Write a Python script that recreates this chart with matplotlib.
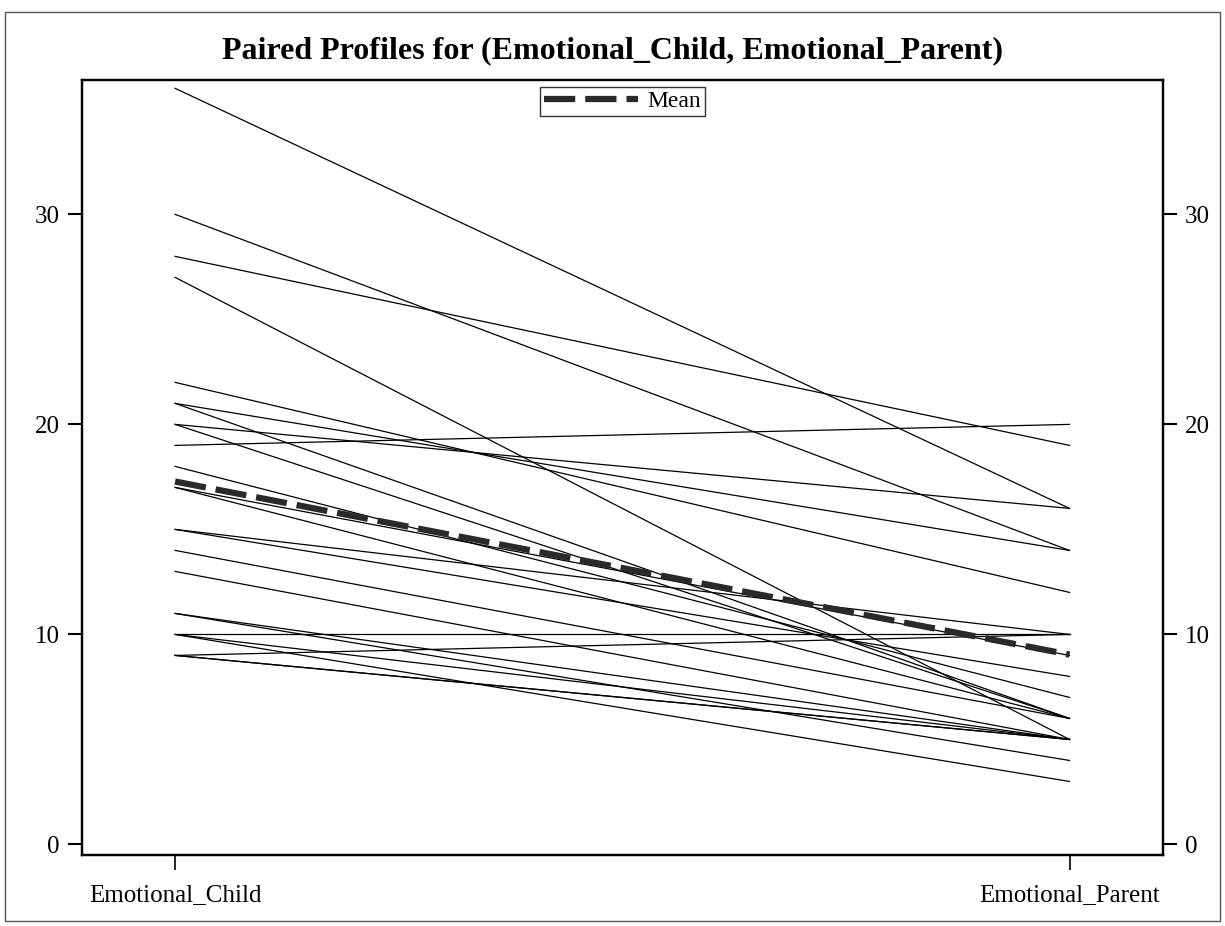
import matplotlib
matplotlib.use("Agg")
import matplotlib.pyplot as plt
import numpy as np
from matplotlib.patches import Rectangle

# paired scores, one entry per subject
child = [36, 30, 28, 27, 22, 21, 21, 20, 20, 19, 18, 17, 17,
         15, 15, 14, 13, 11, 11, 10, 10, 9, 10, 9, 9]
parent = [16, 14, 19, 5, 12, 14, 6, 16, 6, 20, 7, 9, 6,
          10, 8, 6, 5, 5, 4, 10, 5, 5, 3, 10, 5]
labels = ["Emotional_Child", "Emotional_Parent"]
title = "Paired Profiles for (Emotional_Child, Emotional_Parent)"

plt.rcParams['font.family'] = ['Liberation Serif', 'DejaVu Serif']

fig = plt.figure(figsize=(12.25, 9.26), dpi=100)
ax = fig.add_axes([0.067, 0.0767, 0.882, 0.837])

xs = [0, 1]
for c, p in zip(child, parent):
    ax.plot(xs, [c, p], color='black', lw=0.9)

mean_c = np.mean(child)
mean_p = np.mean(parent)
ax.plot(xs, [mean_c, mean_p], color='#2a2a2a', lw=4.5, dashes=(5, 1.6),
        label='Mean')

ax.set_xlim(-0.104, 1.104)
ax.set_ylim(-0.5, 36.4)
ax.set_xticks(xs)
ax.set_xticklabels(labels)
ax.set_yticks([0, 10, 20, 30])

ax2 = ax.twinx()
ax2.set_ylim(ax.get_ylim())
ax2.set_yticks([0, 10, 20, 30])

for a in (ax, ax2):
    for s in a.spines.values():
        s.set_linewidth(1.6)
    a.tick_params(axis='y', labelsize=18, length=10, width=1.5, pad=6)
ax.tick_params(axis='x', labelsize=18, length=11, width=1.2, pad=10)

leg = ax.legend(loc='upper center', bbox_to_anchor=(0.5, 0.997), fontsize=17,
                frameon=True, fancybox=False, handlelength=4.0,
                borderpad=0.15, handletextpad=0.4, borderaxespad=0.2)
leg.get_frame().set_edgecolor('black')
leg.get_frame().set_linewidth(1.0)

fig.text(0.5, 0.945, title, ha='center', va='center', fontsize=23,
         fontweight='bold')

fig.patches.append(Rectangle((0.004, 0.005), 0.992, 0.982,
                             transform=fig.transFigure, fill=False,
                             edgecolor='#555555', lw=1.0))

fig.savefig("out.png", dpi=100)
